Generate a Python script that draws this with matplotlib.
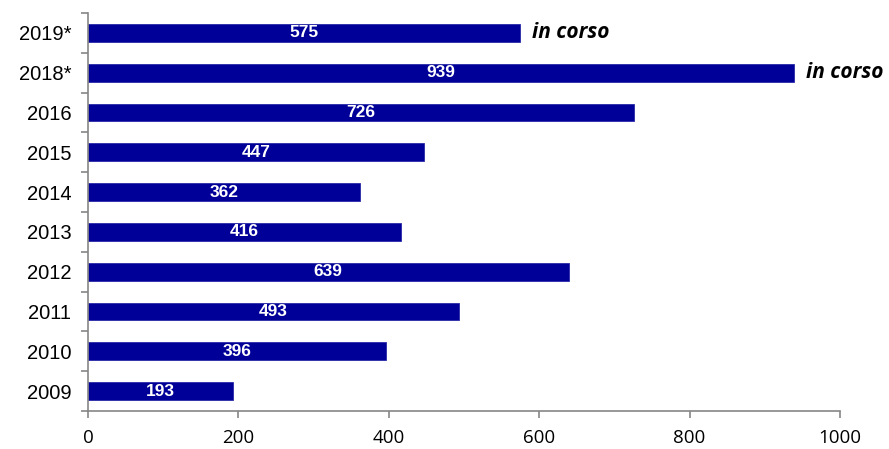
import matplotlib.pyplot as plt
from matplotlib.ticker import FixedLocator, NullFormatter

years = ["2009", "2010", "2011", "2012", "2013", "2014", "2015", "2016", "2018*", "2019*"]
counts = [193, 396, 493, 639, 416, 362, 447, 726, 939, 575]
in_progress = ["2018*", "2019*"]

bar_color = "#000099"
axis_color = "#868686"

fig = plt.figure(figsize=(8.89, 4.49), dpi=100)
ax = fig.add_axes([88 / 889, 1 - 411 / 449, (840 - 88) / 889, (411 - 13) / 449])

pos = list(range(len(years)))
bars = ax.barh(pos, counts, height=0.45, color=bar_color, edgecolor="#2a2aa8", linewidth=0.6)

for b, v, y in zip(bars, counts, years):
    ax.text(v / 2, b.get_y() + b.get_height() / 2, str(v), ha="center", va="center",
            color="white", fontsize=12.5, fontweight="bold", family="Liberation Sans")
    if y in in_progress:
        ax.text(v + 16, b.get_y() + b.get_height() / 2, "in corso", ha="left", va="center",
                color="black", fontsize=15, fontweight="bold", style="italic", family="Open Sans")

ax.set_xlim(0, 1000)
ax.set_ylim(-0.5, len(years) - 0.5)
ax.set_xticks([0, 200, 400, 600, 800, 1000])
ax.set_yticks(pos)
ax.set_yticklabels(years)
ax.yaxis.set_minor_locator(FixedLocator([p - 0.5 for p in pos] + [len(years) - 0.5]))
ax.yaxis.set_minor_formatter(NullFormatter())

for s in ["top", "right"]:
    ax.spines[s].set_visible(False)
for s in ["left", "bottom"]:
    ax.spines[s].set_color(axis_color)
    ax.spines[s].set_linewidth(1.2)

ax.tick_params(axis="y", which="major", length=0, pad=12)
ax.tick_params(axis="y", which="minor", length=5, color=axis_color, width=1.2, direction="out")
ax.tick_params(axis="x", length=5, color=axis_color, width=1.2, direction="out", pad=8)
for lab in ax.get_yticklabels():
    lab.set_family("Liberation Sans")
    lab.set_fontsize(14.5)
for lab in ax.get_xticklabels():
    lab.set_family("Open Sans")
    lab.set_fontsize(13.5)

fig.savefig("out.png", dpi=100)
